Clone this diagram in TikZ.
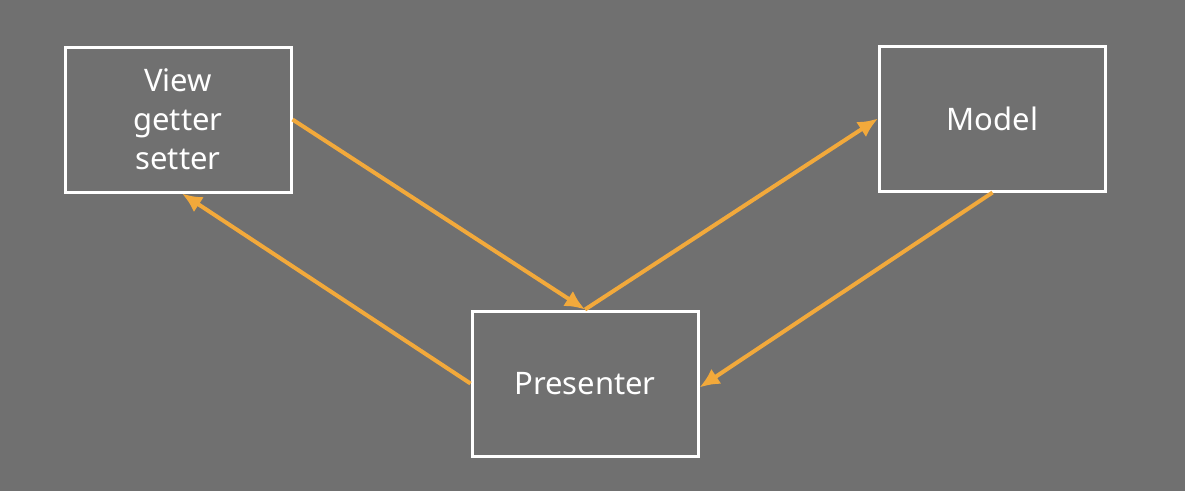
\documentclass[tikz,border=0pt]{standalone}
\usepackage{fontspec}
\setmainfont{Noto Sans}
\usetikzlibrary{arrows.meta}
\definecolor{bggray}{HTML}{707070}
\definecolor{arrorange}{HTML}{F2A93B}
\begin{document}
\begin{tikzpicture}[x=1pt,y=-1pt,
  box/.style={draw=white,line width=3pt,minimum width=226pt,minimum height=145pt,
    text=white,font=\fontsize{31}{39}\selectfont,align=center,inner sep=0pt},
  flow/.style={draw=arrorange,line width=4pt,-{Latex[length=20pt,width=18pt]}}]
\fill[bggray] (0,0) rectangle (1185,491);
\useasboundingbox (0,0) rectangle (1185,491);
\node[box] (view) at (178,119.5) {View\\getter\\setter};
\node[box] (model) at (992.5,118.5) {Model};
\node[box] (pres) at (585,383.5) {Presenter};
\draw[flow] (view.east) -- (pres.north);
\draw[flow] (pres.north) -- (model.west);
\draw[flow] (model.south) -- ([yshift=-4pt]pres.east);
\draw[flow] (pres.west) -- ([xshift=4pt]view.south);
\end{tikzpicture}
\end{document}
